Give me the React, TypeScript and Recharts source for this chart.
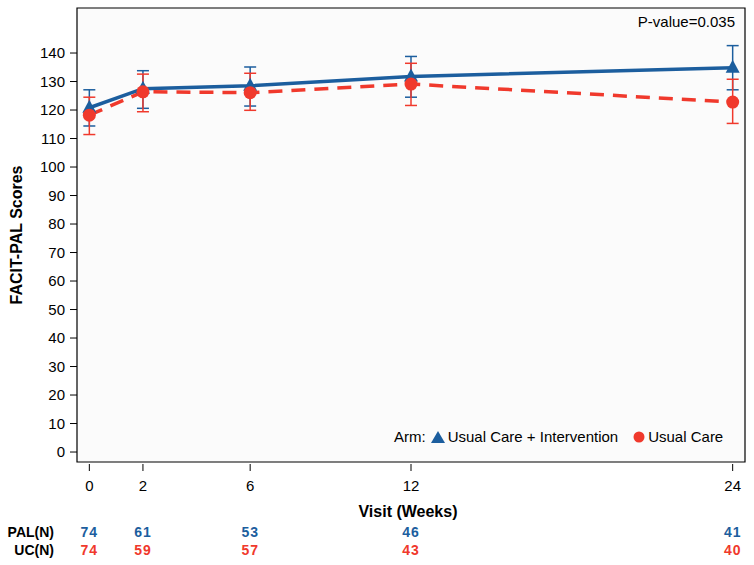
import React from "react";
import {
  ComposedChart,
  Line,
  XAxis,
  YAxis,
  ErrorBar,
  ReferenceArea,
  Legend,
} from "recharts";

// visit weeks
const weeks = [0, 2, 6, 12, 24];

// Usual Care + Intervention (PAL): mean and CI bounds
const palMean = [120.8, 127.5, 128.5, 131.8, 134.8];
const palLow = [114.4, 120.6, 121.4, 124.5, 127.1];
const palHigh = [127.1, 133.8, 135.1, 138.8, 142.6];

// Usual Care (UC)
const ucMean = [118.2, 126.4, 126.1, 129.1, 122.8];
const ucLow = [111.4, 119.4, 119.9, 121.6, 115.3];
const ucHigh = [124.5, 132.6, 132.9, 136.4, 130.8];

// patients at risk
const palN = [74, 61, 53, 46, 41];
const ucN = [74, 59, 57, 43, 40];

const yTicks = [0, 10, 20, 30, 40, 50, 60, 70, 80, 90, 100, 110, 120, 130, 140];
const xDomain = [-0.46, 24.46];
const yDomain = [-3.5, 155.8];

const BLUE = "#1c5e9e";
const RED = "#f0392c";
const FONT = "'Liberation Sans', Arial, sans-serif";

const data = weeks.map((w, i) => ({
  week: w,
  pal: palMean[i],
  palErr: [palMean[i] - palLow[i], palHigh[i] - palMean[i]],
  uc: ucMean[i],
  ucErr: [ucMean[i] - ucLow[i], ucHigh[i] - ucMean[i]],
}));

const TriangleDot = (props: any) => {
  const { cx, cy } = props;
  if (cx == null || cy == null) return <g key={props.key} />;
  return (
    <polygon
      key={props.key}
      points={`${cx},${cy - 8} ${cx - 7},${cy + 5} ${cx + 7},${cy + 5}`}
      fill={BLUE}
    />
  );
};

const CircleDot = (props: any) => {
  const { cx, cy } = props;
  if (cx == null || cy == null) return <g key={props.key} />;
  return <circle key={props.key} cx={cx} cy={cy} r={6.5} fill={RED} />;
};

const XTick = (props: any) => {
  const { x, y, payload, index } = props;
  return (
    <g>
      <line x1={x} x2={x} y1={y + 2} y2={y + 9} stroke="#000" strokeWidth={1} />
      <text x={x} y={y + 29} textAnchor="middle" fontSize={15} fill="#000" fontFamily={FONT}>
        {payload.value}
      </text>
      <text x={x} y={y + 75} textAnchor="middle" fontSize={14} fontWeight="bold" fill={BLUE} fontFamily={FONT} letterSpacing={1}>
        {palN[index]}
      </text>
      <text x={x} y={y + 93} textAnchor="middle" fontSize={14} fontWeight="bold" fill={RED} fontFamily={FONT} letterSpacing={1}>
        {ucN[index]}
      </text>
    </g>
  );
};

const XLabel = (props: any) => {
  const { viewBox } = props;
  const cx = viewBox.x + viewBox.width / 2;
  return (
    <g fontFamily={FONT} fontWeight="bold">
      <text x={cx - 3} y={viewBox.y + 55} textAnchor="middle" fontSize={16} fill="#000">
        Visit (Weeks)
      </text>
      <text x={54} y={viewBox.y + 75} textAnchor="end" fontSize={14} fill="#000">
        PAL(N)
      </text>
      <text x={54} y={viewBox.y + 93} textAnchor="end" fontSize={14} fill="#000">
        UC(N)
      </text>
    </g>
  );
};

const YLabel = (props: any) => {
  const { viewBox } = props;
  const cy = viewBox.y + viewBox.height / 2;
  return (
    <text
      x={22}
      y={cy}
      transform={`rotate(-90, 22, ${cy})`}
      textAnchor="middle"
      fontSize={16}
      fontWeight="bold"
      fontFamily={FONT}
      fill="#000"
    >
      FACIT-PAL Scores
    </text>
  );
};

const ArmLegend = () => (
  <div style={{ display: "flex", alignItems: "center", fontFamily: FONT, fontSize: 15, color: "#000", whiteSpace: "nowrap" }}>
    <span>Arm:</span>
    <svg width={16} height={14} style={{ margin: "0 2px 0 4px" }}>
      <polygon points="8,1 1,13 15,13" fill={BLUE} />
    </svg>
    <span>Usual Care + Intervention</span>
    <svg width={14} height={14} style={{ margin: "0 2px 0 14px" }}>
      <circle cx={7} cy={7} r={5.5} fill={RED} />
    </svg>
    <span>Usual Care</span>
  </div>
);

export default function App() {
  return (
    <div style={{ position: "absolute", left: 0, top: 0, width: 754, height: 565, background: "#fff" }}>
      <ComposedChart
        width={754}
        height={565}
        data={data}
        margin={{ top: 8, right: 9, bottom: 0, left: 0 }}
      >
        <XAxis
          dataKey="week"
          type="number"
          domain={xDomain}
          ticks={weeks}
          allowDataOverflow
          height={103}
          axisLine={false}
          tickLine={false}
          tickSize={0}
          tickMargin={0}
          tick={<XTick />}
          interval={0}
          label={{ content: <XLabel /> }}
        />
        <YAxis
          type="number"
          domain={yDomain}
          ticks={yTicks}
          allowDataOverflow
          width={77}
          axisLine={false}
          tickSize={7}
          tickMargin={5}
          tickLine={{ stroke: "#000" }}
          tick={{ fontSize: 15, fill: "#000", fontFamily: FONT }}
          interval={0}
          label={{ content: <YLabel /> }}
        />
        <ReferenceArea
          x1={xDomain[0]}
          x2={xDomain[1]}
          y1={yDomain[0]}
          y2={yDomain[1]}
          fill="#fbfbfb"
          fillOpacity={1}
          stroke="#000"
          strokeWidth={1.2}
        />
        <Legend
          layout="horizontal"
          verticalAlign="middle"
          content={<ArmLegend />}
          wrapperStyle={{ position: "absolute", left: 394, top: 428, width: "auto" }}
        />
        <Line
          dataKey="pal"
          stroke={BLUE}
          strokeWidth={3.5}
          dot={TriangleDot}
          activeDot={false}
          isAnimationActive={false}
        >
          <ErrorBar dataKey="palErr" width={6} stroke={BLUE} strokeWidth={1.5} />
        </Line>
        <Line
          dataKey="uc"
          stroke={RED}
          strokeWidth={3.5}
          strokeDasharray="14 9"
          dot={CircleDot}
          activeDot={false}
          isAnimationActive={false}
        >
          <ErrorBar dataKey="ucErr" width={6} stroke={RED} strokeWidth={1.5} />
        </Line>
      </ComposedChart>
      <div
        style={{
          position: "absolute",
          right: 19,
          top: 13,
          fontFamily: FONT,
          fontSize: 15,
          color: "#000",
        }}
      >
        P-value=0.035
      </div>
    </div>
  );
}
